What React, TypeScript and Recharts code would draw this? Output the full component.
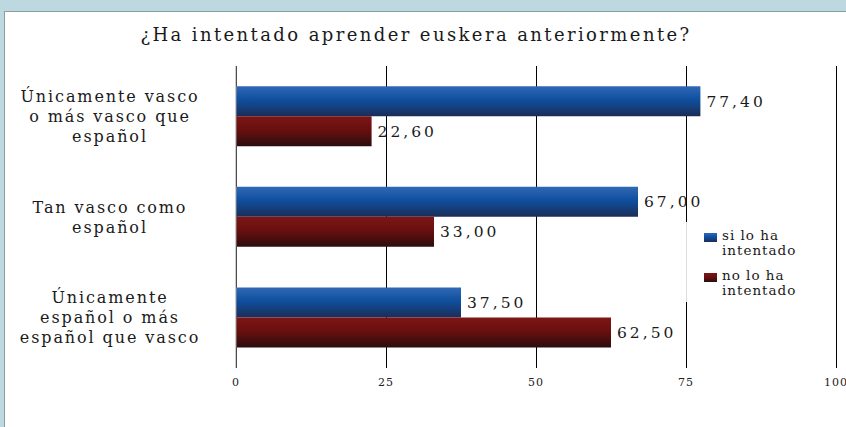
import React from "react";
import {
  BarChart,
  Bar,
  XAxis,
  YAxis,
  CartesianGrid,
  LabelList,
} from "recharts";

const categories = [
  "Únicamente vasco o más vasco que español",
  "Tan vasco como español",
  "Únicamente español o más español que vasco",
];
// how each category label breaks into lines, as in the picture
const categoryLines = [
  ["Únicamente vasco", "o más vasco que", "español"],
  ["Tan vasco como", "español"],
  ["Únicamente", "español o más", "español que vasco"],
];
const siIntentado = [77.4, 67.0, 37.5];
const noIntentado = [22.6, 33.0, 62.5];
const xTicks = [0, 25, 50, 75, 100];
const seriesNames = ["si lo ha intentado", "no lo ha intentado"];

const FONT = "'DejaVu Serif', serif";
const BLUE_CSS = "linear-gradient(to bottom, #3069b5 0%, #0f4f9f 45%, #1b2d57 100%)";
const RED_CSS = "linear-gradient(to bottom, #7d1616 0%, #6a0f0f 45%, #2c0d0d 100%)";

const data = categories.map((c, i) => ({
  name: c,
  si: siIntentado[i],
  no: noIntentado[i],
}));

const fmt = (v: any) => Number(v).toFixed(2).replace(".", ",");

function CategoryTick(props: any) {
  const { x, y, payload } = props;
  const idx = categories.indexOf(payload.value);
  const lines = categoryLines[idx] || [payload.value];
  const lh = 20;
  const start = y - ((lines.length - 1) * lh) / 2;
  return (
    <text
      x={x - 118}
      y={start}
      textAnchor="middle"
      fontFamily={FONT}
      fontSize={16}
      fill="#1a1a1a"
      letterSpacing={1.9}
    >
      {lines.map((l, i) => (
        <tspan key={i} x={x - 118} y={start + i * lh} dy="0.35em">
          {l}
        </tspan>
      ))}
    </text>
  );
}

export default function App() {
  return (
    <div
      style={{
        position: "absolute",
        left: 0,
        top: 0,
        width: 846,
        height: 427,
        background: "#bdd8de",
        overflow: "hidden",
      }}
    >
      <div
        style={{
          position: "absolute",
          left: 4,
          top: 11,
          width: 900,
          height: 500,
          background: "#fff",
          border: "1px solid #8c9ca1",
        }}
      />
      <div
        style={{
          position: "absolute",
          left: 0,
          width: 832,
          top: 24,
          textAlign: "center",
          fontFamily: FONT,
          fontSize: 18,
          letterSpacing: 2.4,
          color: "#1a1a1a",
        }}
      >
        ¿Ha intentado aprender euskera anteriormente?
      </div>
      <div style={{ position: "absolute", left: 0, top: 0 }}>
        <BarChart
          width={846}
          height={427}
          data={data}
          layout="vertical"
          margin={{ top: 66, right: 10, bottom: 29, left: 0 }}
          barCategoryGap="20%"
          barGap={0}
        >
          <defs>
            <linearGradient id="gBlue" x1="0" y1="0" x2="0" y2="1">
              <stop offset="0%" stopColor="#3069b5" />
              <stop offset="45%" stopColor="#0f4f9f" />
              <stop offset="100%" stopColor="#1b2d57" />
            </linearGradient>
            <linearGradient id="gRed" x1="0" y1="0" x2="0" y2="1">
              <stop offset="0%" stopColor="#7d1616" />
              <stop offset="45%" stopColor="#6a0f0f" />
              <stop offset="100%" stopColor="#2c0d0d" />
            </linearGradient>
          </defs>
          <CartesianGrid horizontal={false} stroke="#000" shapeRendering="crispEdges" />
          <XAxis
            type="number"
            domain={[0, 100]}
            ticks={xTicks}
            axisLine={false}
            tickLine={false}
            interval={0}
            tick={{ fontFamily: FONT, fontSize: 11, fill: "#222", letterSpacing: 1 }}
            tickMargin={4}
            height={30}
          />
          <YAxis
            type="category"
            dataKey="name"
            width={236}
            axisLine={{ stroke: "#9a9a9a" }}
            tickLine={false}
            tick={<CategoryTick />}
            interval={0}
          />
          <Bar dataKey="si" name={seriesNames[0]} fill="url(#gBlue)" isAnimationActive={false}>
            <LabelList
              dataKey="si"
              position="right"
              offset={6}
              formatter={fmt}
              fontFamily={FONT}
              fontSize={15.5}
              fill="#1a1a1a"
              letterSpacing={3}
            />
          </Bar>
          <Bar dataKey="no" name={seriesNames[1]} fill="url(#gRed)" isAnimationActive={false}>
            <LabelList
              dataKey="no"
              position="right"
              offset={6}
              formatter={fmt}
              fontFamily={FONT}
              fontSize={15.5}
              fill="#1a1a1a"
              letterSpacing={3}
            />
          </Bar>
        </BarChart>
      </div>
      <div
        style={{
          position: "absolute",
          left: 686,
          top: 222,
          width: 130,
          height: 80,
          background: "#fff",
          borderLeft: "1px solid #dcdcdc",
          fontFamily: FONT,
          fontSize: 13.5,
          color: "#1a1a1a",
          letterSpacing: 1,
        }}
      >
        {seriesNames.map((n, i) => (
          <div
            key={n}
            style={{
              position: "absolute",
              left: 17,
              top: 6 + i * 40,
              display: "flex",
              alignItems: "flex-start",
            }}
          >
            <div
              style={{
                width: 13,
                height: 9,
                marginTop: 5,
                marginRight: 5,
                background: i === 0 ? BLUE_CSS : RED_CSS,
              }}
            />
            <div style={{ width: 95, lineHeight: "15px" }}>{n}</div>
          </div>
        ))}
      </div>
    </div>
  );
}
